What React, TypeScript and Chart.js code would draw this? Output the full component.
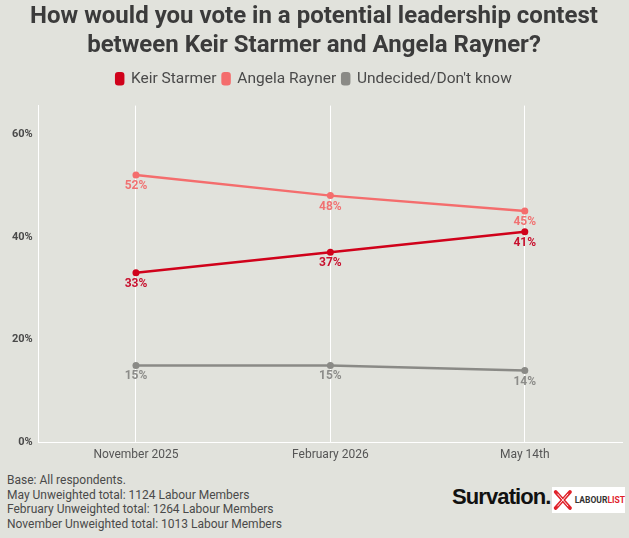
import { useEffect, useRef } from 'react'
import { Chart, registerables } from 'chart.js'

Chart.register(...registerables)

const categories = ['November 2025', 'February 2026', 'May 14th']
const keirStarmer = [33, 37, 41]
const angelaRayner = [52, 48, 45]
const undecided = [15, 15, 14]
const yTicks = [0, 20, 40, 60]
const seriesNames = ['Keir Starmer', 'Angela Rayner', "Undecided/Don't know"]
const footnotes = [
  'Base: All respondents.',
  'May Unweighted total: 1124 Labour Members',
  'February Unweighted total: 1264 Labour Members',
  'November Unweighted total: 1013 Labour Members',
]

const BG = '#e1e2dc'
const FONT = 'Roboto, "Noto Sans", sans-serif'

// draws "NN%" under each point, in the series colour
const pointLabels = {
  id: 'pointLabels',
  afterDatasetsDraw(chart: any) {
    const { ctx } = chart
    chart.data.datasets.forEach((ds: any, i: number) => {
      const meta = chart.getDatasetMeta(i)
      ctx.save()
      ctx.font = `bold 12px ${FONT}`
      ctx.fillStyle = ds.labelColor
      ctx.textAlign = 'center'
      ctx.textBaseline = 'middle'
      meta.data.forEach((pt: any, j: number) => {
        ctx.fillText(ds.data[j] + '%', pt.x, pt.y + 11)
      })
      ctx.restore()
    })
  },
}

// extra room under the legend
const legendGap = {
  id: 'legendGap',
  beforeInit(chart: any) {
    const fit = chart.legend.fit
    chart.legend.fit = function () {
      fit.call(this)
      this.height += 9
    }
  },
}

export default function App() {
  const canvasRef = useRef<HTMLCanvasElement | null>(null)
  const chartRef = useRef<Chart | null>(null)

  useEffect(() => {
    document.body.style.margin = '0'
    document.body.style.background = BG
    if (!canvasRef.current) return
    const ctx = canvasRef.current.getContext('2d')!

    const line = (label: string, data: number[], color: string, labelColor: string) => ({
      label,
      data,
      borderColor: color,
      backgroundColor: color,
      labelColor,
      borderWidth: 2.5,
      pointRadius: 3.5,
      pointHoverRadius: 3.5,
      pointBackgroundColor: color,
      pointBorderWidth: 0,
      tension: 0,
    })

    chartRef.current = new Chart(ctx, {
      type: 'line',
      data: {
        labels: categories,
        datasets: [
          line(seriesNames[0], keirStarmer, '#d0021b', '#c8102e'),
          line(seriesNames[1], angelaRayner, '#f46d6d', '#f07272'),
          line(seriesNames[2], undecided, '#8a8a86', '#8c8c89'),
        ] as any,
      },
      options: {
        responsive: true,
        maintainAspectRatio: false,
        animation: false,
        layout: { padding: { left: 6, right: 7, top: 0, bottom: 3 } },
        plugins: {
          title: {
            display: true,
            text: [
              'How would you vote in a potential leadership contest',
              'between Keir Starmer and Angela Rayner?',
            ],
            color: '#3b3b3b',
            font: { family: FONT, size: 24, weight: 'bold', lineHeight: 1.21 },
            padding: { top: 2.5, bottom: 4.5 },
          },
          legend: {
            position: 'top',
            labels: {
              color: '#4a4a4a',
              font: { family: FONT, size: 15.5 },
              boxWidth: 7,
              boxHeight: 11,
              useBorderRadius: true,
              borderRadius: 2,
              padding: 6,
            },
          },
          tooltip: { enabled: false },
        },
        scales: {
          x: {
            offset: true,
            grid: { display: true, offset: false, color: '#ffffff', lineWidth: 1, drawTicks: false },
            border: { display: true, color: '#ffffff', width: 1 },
            ticks: { color: '#555555', font: { family: FONT, size: 12 }, padding: 5 },
          },
          y: {
            min: 0,
            max: 65.5,
            afterBuildTicks: (scale: any) => {
              scale.ticks = yTicks.map((v) => ({ value: v }))
            },
            grid: {
              display: true,
              color: (c: any) => (c.tick && c.tick.value === 0 ? '#ffffff' : 'rgba(0,0,0,0)'),
              drawTicks: false,
            },
            border: { display: true, color: '#ffffff', width: 1 },
            ticks: {
              color: '#4a4a4a',
              font: { family: FONT, size: 11, weight: 'bold' },
              padding: 6,
              callback: (v: any) => v + '%',
            },
          },
        },
      },
      plugins: [pointLabels, legendGap],
    })

    return () => chartRef.current?.destroy()
  }, [])

  return (
    <div style={{ position: 'relative', width: 629, height: 538, background: BG, overflow: 'hidden' }}>
      <div style={{ position: 'absolute', left: 0, top: 0, width: 629, height: 470 }}>
        <canvas ref={canvasRef} />
      </div>
      <div
        style={{
          position: 'absolute',
          left: 7,
          top: 473,
          fontFamily: FONT,
          fontSize: 12,
          lineHeight: '14.7px',
          color: '#4a4a4a',
        }}
      >
        {footnotes.map((t) => (
          <div key={t}>{t}</div>
        ))}
      </div>
      <div
        style={{
          position: 'absolute',
          left: 452,
          top: 484,
          fontFamily: '"Liberation Sans", Arial, sans-serif',
          fontWeight: 'bold',
          fontSize: 22,
          letterSpacing: '-0.9px',
          color: '#111111',
        }}
      >
        Survation.
      </div>
      <div
        style={{
          position: 'absolute',
          left: 552,
          top: 487,
          width: 73,
          height: 26,
          background: '#ffffff',
          display: 'flex',
          alignItems: 'center',
        }}
      >
        <svg width="22" height="24" viewBox="0 0 22 24" style={{ marginLeft: 1 }}>
          <path d="M3 3 L19 21 M19 3 L3 21" stroke="#e0222a" strokeWidth="4" strokeLinecap="round" fill="none" />
          <path d="M5 5 L17 19 M17 5 L5 19" stroke="#ffffff" strokeWidth="1" fill="none" />
        </svg>
        <span style={{ fontFamily: FONT, fontSize: 8.5, fontWeight: 'bold', color: '#333333', marginLeft: 2 }}>
          LABOUR<span style={{ color: '#e0222a' }}>LIST</span>
        </span>
      </div>
    </div>
  )
}
